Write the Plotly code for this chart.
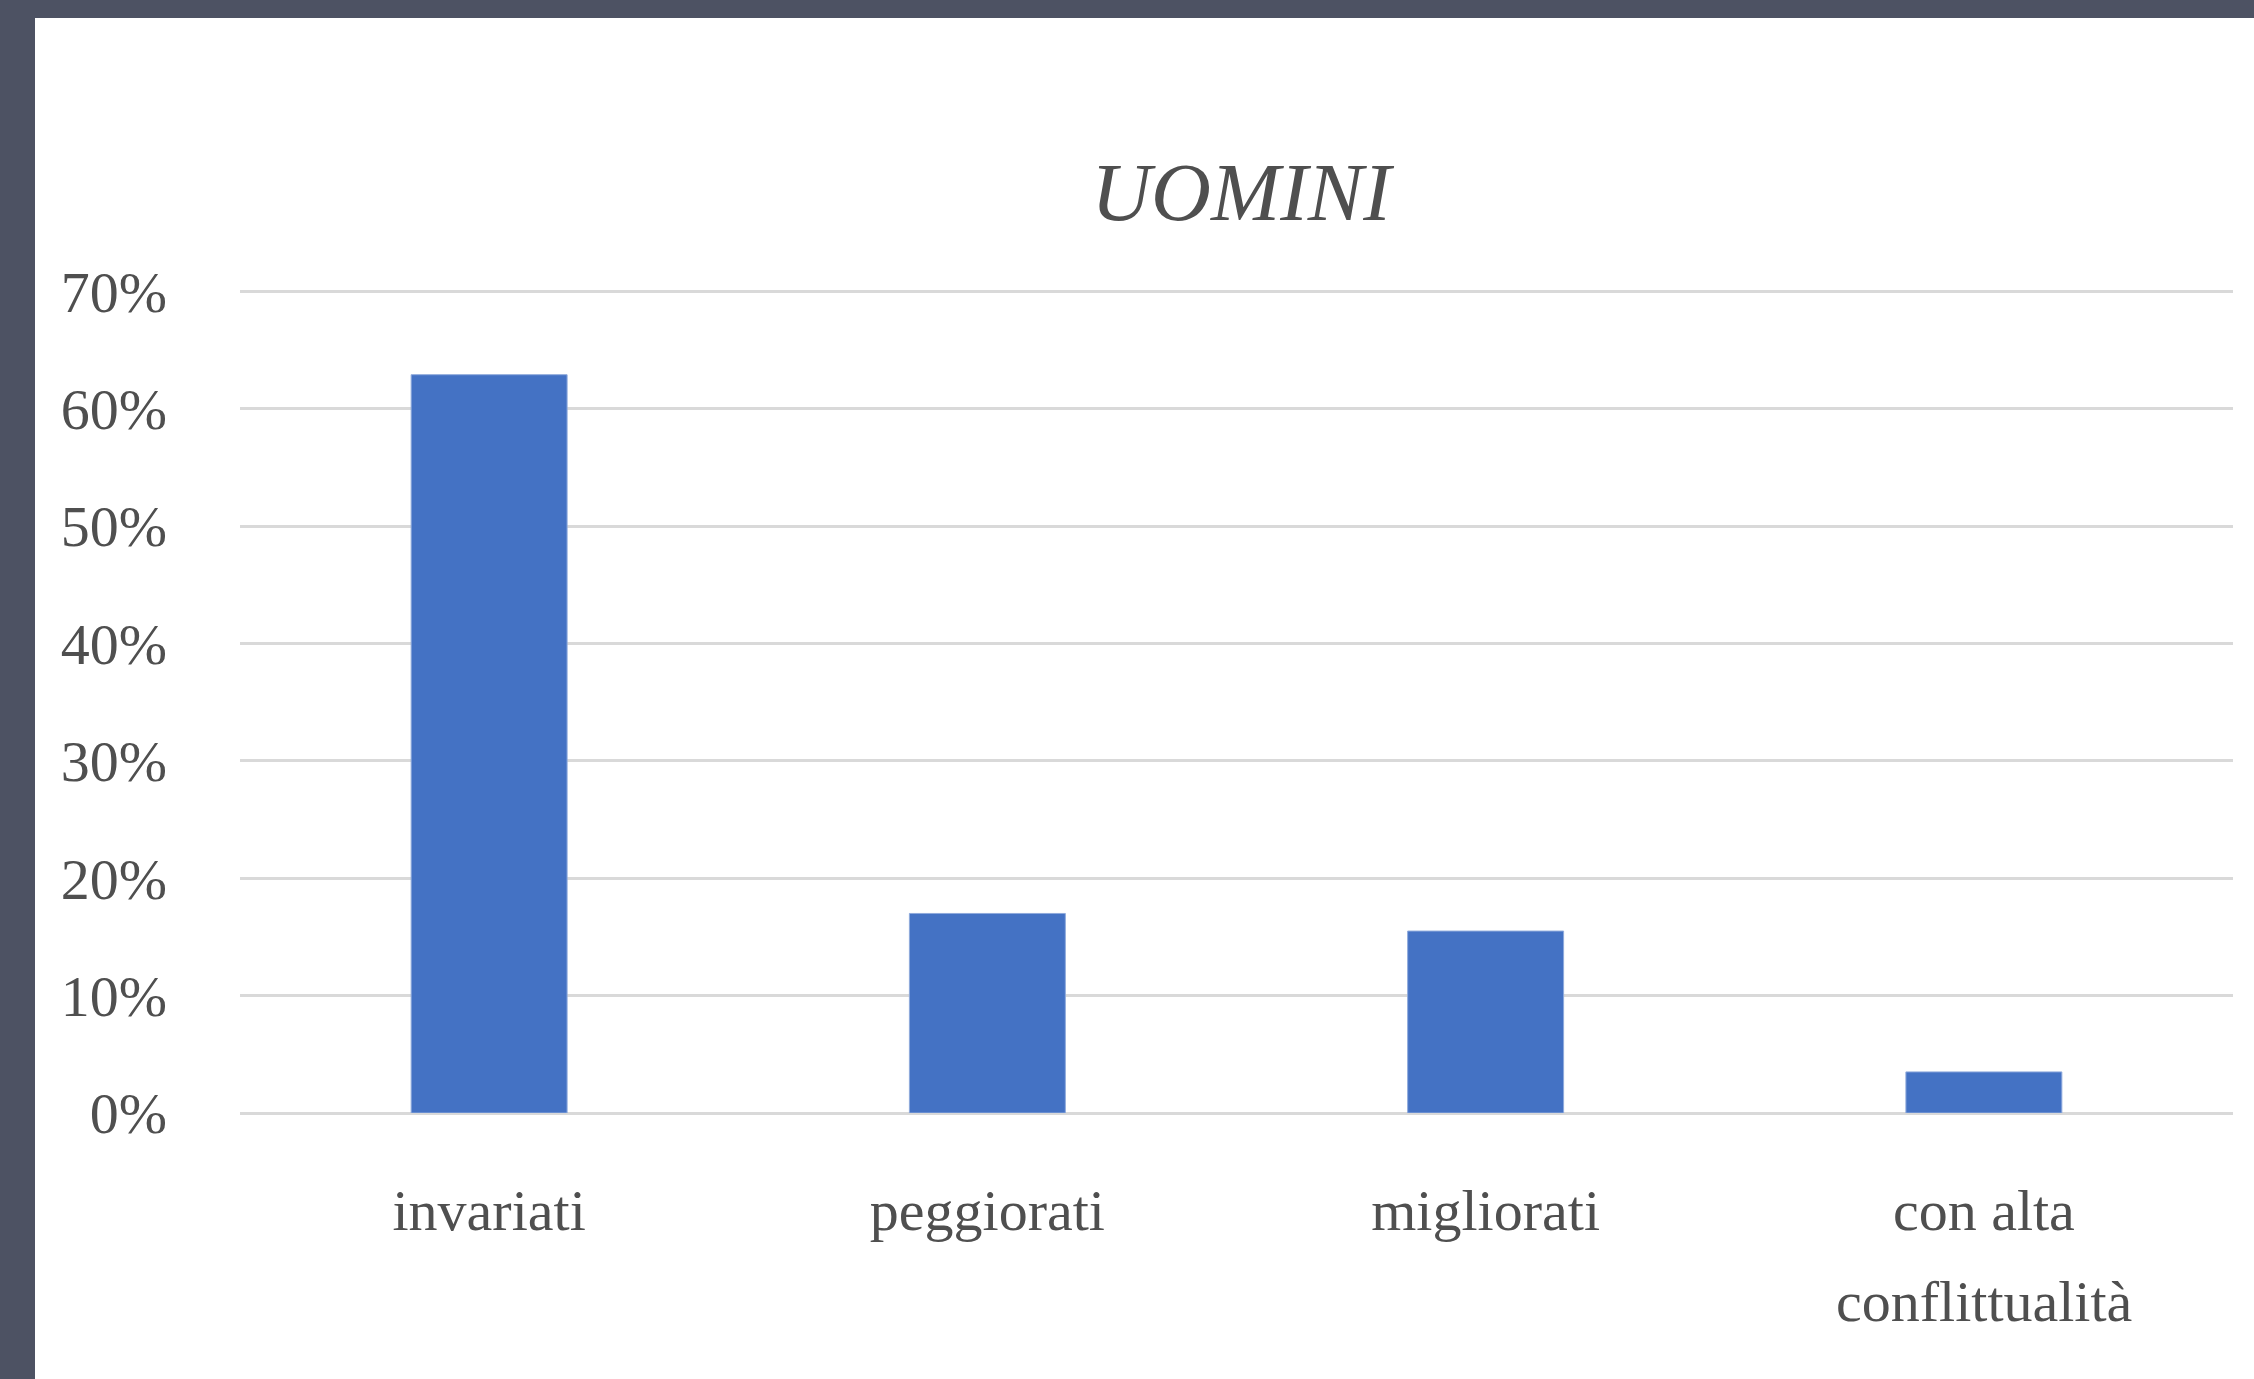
import plotly.graph_objects as go

categories = ["invariati", "peggiorati", "migliorati", "con alta conflittualità"]
tick_labels = ["invariati", "peggiorati", "migliorati", "con alta"]
second_line = {"con alta conflittualità": "conflittualità"}
values = [0.629, 0.170, 0.155, 0.035]
tick_vals = [0, 0.1, 0.2, 0.3, 0.4, 0.5, 0.6, 0.7]
title_text = "UOMINI"

W, H = 2254, 1379
ML, MR, MT, MB = 240, 21, 289, 266
pw = W - ML - MR
ph = H - MT - MB

fig = go.Figure()
fig.add_trace(go.Bar(
    x=categories, y=values,
    marker=dict(color="#4472C4", line=dict(color="#8FAADC", width=1)),
    hoverinfo="x+y",
))

# white panel over the dark textured background (left & top strips remain)
fig.add_shape(type="rect", xref="paper", yref="paper",
              x0=(35 - ML) / pw, x1=(W - ML) / pw + 0.01,
              y0=-(MB + 5) / ph, y1=(ph + MT - 18) / ph,
              fillcolor="white", line=dict(width=0), layer="below")

serif = "Liberation Serif, Times New Roman, serif"
txt_color = "#4F4F4F"

for cat, extra in second_line.items():
    fig.add_annotation(x=cat, xref="x", yref="paper",
                       y=-(1322 - (MT + ph)) / ph, yanchor="bottom",
                       text=extra, showarrow=False, yshift=-14,
                       font=dict(family=serif, size=58, color=txt_color))

fig.update_layout(
    width=W, height=H,
    margin=dict(l=ML, r=MR, t=MT, b=MB, pad=0),
    paper_bgcolor="#4D5263",
    plot_bgcolor="rgba(0,0,0,0)",
    showlegend=False,
    bargap=0.687,
    title=dict(text=title_text, x=1241 / W, xanchor="center",
               y=1 - 191 / H, yanchor="middle",
               font=dict(family=serif, size=83, color=txt_color, style="italic")),
    font=dict(family=serif, color=txt_color),
)
fig.update_yaxes(
    range=[0, 0.702], tickvals=tick_vals, tickformat=".0%",
    showgrid=True, gridcolor="#D9D9D9", gridwidth=3,
    zeroline=True, zerolinecolor="#D9D9D9", zerolinewidth=3,
    showline=False, ticks="",
    tickfont=dict(family=serif, size=58, color=txt_color),
    ticklabelstandoff=72,
)
fig.update_xaxes(
    tickvals=categories, ticktext=tick_labels,
    showgrid=False, showline=False, ticks="",
    tickfont=dict(family=serif, size=58, color=txt_color),
    ticklabelstandoff=58,
)

fig.write_html(
    "out.html",
    config={"displayModeBar": False},
    post_script="document.body.style.margin='0';document.documentElement.style.overflow='hidden';",
)
